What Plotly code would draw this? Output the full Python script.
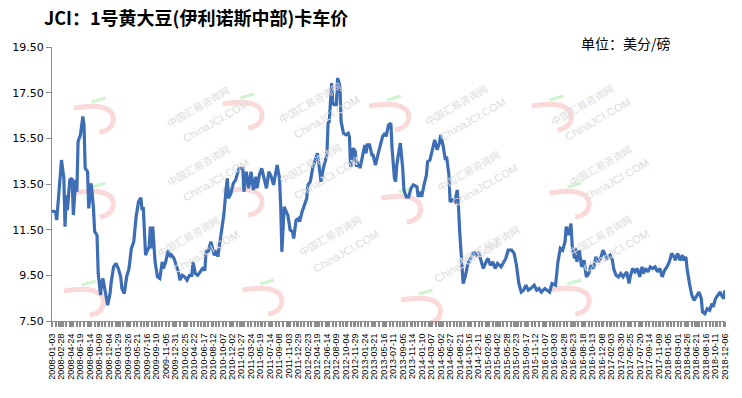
import plotly.graph_objects as go

# ---- data (week index since 2008-01-03, price in US cents / lb) ----
weeks = [
    0, 3, 4, 5, 6, 8, 10, 11, 12, 13,
    15, 17, 18, 20, 21, 22, 24, 26, 27, 28,
    30, 31, 33, 34, 35, 36, 38, 39, 41, 42,
    43, 45, 46, 47, 49, 50, 52, 54, 56, 58,
    59, 61, 63, 65, 67, 69, 71, 73, 75, 76,
    77, 79, 80, 82, 83, 84, 85, 87, 89, 91,
    93, 94, 96, 98, 100, 101, 103, 105, 107, 108,
    110, 112, 114, 116, 118, 119, 121, 123, 125, 127,
    129, 130, 132, 134, 137, 139, 140, 142, 144, 145,
    147, 148, 149, 151, 153, 155, 157, 158, 161, 162,
    164, 166, 168, 170, 172, 173, 175, 177, 179, 181,
    183, 185, 187, 190, 192, 193, 194, 196, 197, 199,
    201, 203, 204, 206, 208, 209, 211, 213, 215, 216,
    218, 220, 222, 224, 225, 227, 229, 231, 232, 233,
    234, 236, 237, 238, 240, 241, 243, 244, 246, 248,
    250, 251, 252, 253, 254, 256, 257, 259, 260, 262,
    264, 265, 266, 268, 270, 271, 273, 275, 277, 279,
    281, 282, 284, 286, 287, 289, 290, 291, 293, 294,
    296, 297, 299, 301, 303, 305, 308, 309, 311, 312,
    314, 316, 317, 319, 321, 323, 325, 327, 328, 330,
    332, 333, 335, 336, 338, 340, 342, 343, 344, 346,
    347, 349, 351, 354, 356, 358, 360, 362, 364, 367,
    368, 370, 372, 374, 376, 379, 381, 383, 385, 388,
    390, 392, 394, 396, 398, 400, 402, 404, 407, 409,
    411, 413, 416, 418, 420, 422, 425, 427, 429, 431,
    433, 434, 436, 438, 439, 441, 442, 443, 445, 447,
    449, 451, 453, 455, 457, 459, 461, 463, 465, 467,
    468, 471, 473, 474, 476, 478, 480, 482, 485, 487,
    488, 490, 492, 494, 496, 498, 499, 501, 503, 505,
    507, 509, 511, 513, 515, 517, 519, 521, 523, 525,
    526, 528, 530, 532, 533, 535, 536, 538, 540, 542,
    544, 546, 548, 549, 551, 553, 555, 557, 558, 560,
    562, 564, 565, 567, 568,
]

prices = [
    12.31, 12.28, 11.92, 12.72, 13.24, 14.55, 13.75, 11.63, 13.00, 12.36,
    13.68, 13.75, 12.14, 13.68, 13.16, 15.36, 15.65, 16.46, 16.09, 14.19,
    14.04, 12.43, 13.53, 13.02, 12.43, 11.41, 11.26, 9.58, 8.63, 9.21,
    9.36, 8.77, 8.55, 8.19, 8.70, 9.21, 9.87, 10.02, 9.80, 9.43,
    8.92, 8.70, 9.43, 9.80, 10.68, 10.97, 12.07, 12.72, 12.90, 12.36,
    12.50, 10.38, 10.53, 10.75, 11.63, 10.68, 11.63, 10.09, 9.43, 9.36,
    10.09, 9.80, 10.09, 10.60, 10.31, 10.38, 10.24, 9.94, 9.58, 9.29,
    9.50, 9.43, 9.29, 9.50, 9.50, 10.09, 9.58, 9.50, 9.65, 9.80,
    9.72, 10.53, 10.56, 10.97, 10.38, 10.60, 10.31, 10.97, 11.70, 12.14,
    13.31, 13.75, 12.87, 13.09, 13.53, 13.68, 14.04, 14.19, 14.19, 13.16,
    14.04, 13.31, 14.04, 13.24, 13.82, 13.31, 13.90, 14.19, 13.75, 13.31,
    14.04, 13.82, 13.46, 14.33, 13.75, 12.58, 10.53, 12.50, 12.36, 12.14,
    11.48, 11.41, 11.11, 11.92, 11.99, 11.85, 12.28, 12.58, 12.87, 13.46,
    13.60, 14.19, 14.48, 14.85, 14.48, 13.60, 14.19, 14.55, 14.77, 16.16,
    16.24, 17.92, 17.04, 16.97, 16.97, 18.14, 17.77, 16.24, 15.72, 15.65,
    15.72, 15.58, 14.26, 14.41, 15.07, 14.92, 14.26, 14.48, 14.19, 14.70,
    15.21, 14.85, 15.21, 15.21, 14.77, 14.77, 14.33, 14.77, 15.21, 15.58,
    15.72, 15.58, 16.09, 16.16, 15.07, 13.75, 13.60, 14.33, 15.00, 15.29,
    14.19, 13.24, 12.94, 12.94, 13.31, 13.46, 13.38, 12.94, 13.16, 12.94,
    13.46, 13.90, 14.48, 14.55, 15.00, 15.43, 15.00, 15.29, 15.65, 15.21,
    14.55, 14.70, 13.90, 12.72, 12.80, 12.72, 13.24, 12.58, 11.48, 9.87,
    9.14, 9.50, 10.02, 10.31, 10.53, 10.38, 10.53, 10.16, 9.80, 10.16,
    10.24, 9.94, 10.09, 9.80, 10.02, 9.87, 10.09, 10.24, 10.60, 10.60,
    10.46, 9.94, 9.14, 8.77, 8.85, 9.07, 8.85, 8.92, 9.07, 8.85,
    8.92, 8.77, 8.92, 8.85, 8.77, 9.14, 9.07, 10.09, 10.68, 10.60,
    10.97, 11.63, 11.26, 11.77, 10.82, 10.24, 10.68, 10.09, 10.60, 9.87,
    10.16, 9.43, 9.58, 9.94, 9.80, 10.31, 10.09, 10.24, 10.60, 10.38,
    10.24, 10.38, 10.16, 9.80, 9.50, 9.43, 9.58, 9.43, 9.65, 9.14,
    9.43, 9.80, 9.65, 9.80, 9.43, 9.87, 9.58, 9.80, 9.65, 9.87,
    9.80, 9.87, 9.65, 9.80, 9.43, 9.72, 9.87, 10.09, 10.46, 10.31,
    10.16, 10.46, 10.16, 10.38, 10.16, 10.31, 9.80, 9.14, 8.63, 8.41,
    8.63, 8.77, 8.48, 7.90, 7.82, 8.04, 7.97, 8.26, 8.11, 8.48,
    8.63, 8.77, 8.63, 8.48, 8.85,
]

tick_labels = [
    "2008-01-03", "2008-02-28", "2008-04-24", "2008-06-19", "2008-08-14", "2008-10-09", "2008-12-04",
    "2009-01-29", "2009-03-26", "2009-05-21", "2009-07-16", "2009-09-10", "2009-11-05", "2009-12-31",
    "2010-02-25", "2010-04-22", "2010-06-17", "2010-08-12", "2010-10-07", "2010-12-02",
    "2011-01-27", "2011-03-24", "2011-05-19", "2011-07-14", "2011-09-08", "2011-11-03", "2011-12-29",
    "2012-02-23", "2012-04-19", "2012-06-14", "2012-08-09", "2012-10-04", "2012-11-29",
    "2013-01-24", "2013-03-21", "2013-05-16", "2013-07-11", "2013-09-05", "2013-11-14",
    "2014-01-10", "2014-03-07", "2014-05-02", "2014-06-27", "2014-08-21", "2014-10-16", "2014-12-11",
    "2015-02-05", "2015-04-02", "2015-05-28", "2015-07-23", "2015-09-17", "2015-11-12",
    "2016-01-07", "2016-03-03", "2016-04-28", "2016-06-23", "2016-08-18", "2016-10-13", "2016-12-08",
    "2017-02-03", "2017-03-30", "2017-05-25", "2017-07-20", "2017-09-14", "2017-11-09",
    "2018-01-05", "2018-03-01", "2018-04-26", "2018-06-21", "2018-08-16", "2018-10-11", "2018-12-06",
]
label_step = 8
y_ticks = [7.5, 9.5, 11.5, 13.5, 15.5, 17.5, 19.5]

title_text = "JCI：1号黄大豆(伊利诺斯中部)卡车价"
unit_text = "单位：美分/磅"
wm_cn = "中国汇易咨询网"
wm_en = "ChinaJCI.COM"

W, H = 742, 398
L, R, T, B = 50, 13, 47, 77
pw, ph = W - L - R, H - T - B


def px2paper(px, py):
    return (px - L) / pw, (H - B - py) / ph


fig = go.Figure()

# faint watermarks (decoration behind the data line)
wm_pos = [(160, 80), (310, 76), (458, 78), (622, 78),
          (160, 165), (310, 163), (470, 170), (640, 165),
          (150, 263), (330, 262), (490, 272), (640, 262)]
annotations = []
shapes = []
for (px, py) in wm_pos:
    ax, ay = px2paper(px, py)
    annotations.append(dict(
        x=ax, y=ay, xref="paper", yref="paper",
        text=wm_cn, showarrow=False, textangle=-30,
        font=dict(size=10, color="#dcdcdc", family="Noto Sans CJK SC")))
    bx, by = px2paper(px + 17, py + 15)
    annotations.append(dict(
        x=bx, y=by, xref="paper", yref="paper",
        text=wm_en, showarrow=False, textangle=-30,
        font=dict(size=11, color="#dcdcdc", family="Liberation Sans")))
    # pink hook logo
    p0 = px2paper(px - 88, py + 28)
    c1 = px2paper(px - 50, py + 22)
    p1 = px2paper(px - 48, py + 38)
    c2 = px2paper(px - 48, py + 50)
    p2 = px2paper(px - 62, py + 52)
    shapes.append(dict(
        type="path", xref="paper", yref="paper", layer="below",
        path=(f"M {p0[0]},{p0[1]} Q {c1[0]},{c1[1]} {p1[0]},{p1[1]} "
              f"Q {c2[0]},{c2[1]} {p2[0]},{p2[1]}"),
        line=dict(color="rgba(245,170,170,0.45)", width=5)))
    g0 = px2paper(px - 70, py + 22)
    g1 = px2paper(px - 56, py + 18)
    shapes.append(dict(
        type="line", xref="paper", yref="paper", layer="below",
        x0=g0[0], y0=g0[1], x1=g1[0], y1=g1[1],
        line=dict(color="rgba(150,230,150,0.45)", width=3)))

fig.add_trace(go.Scatter(
    x=weeks, y=prices, mode="lines",
    line=dict(color="#3d6db5", width=3.2),
    hoverinfo="skip", showlegend=False,
))

tx, ty = px2paper(40, 17)
annotations.append(dict(
    x=tx, y=ty, xref="paper", yref="paper",
    xanchor="left", yanchor="middle", showarrow=False,
    text="<b>" + title_text + "</b>",
    font=dict(size=18, color="#000000", family="Noto Sans CJK SC")))
ux, uy = px2paper(629, 43)
annotations.append(dict(
    x=ux, y=uy, xref="paper", yref="paper",
    xanchor="center", yanchor="middle", showarrow=False,
    text=unit_text,
    font=dict(size=14, color="#000000", family="Noto Sans CJK SC")))

fig.update_layout(
    width=W, height=H,
    margin=dict(l=L, r=R, t=T, b=B, pad=0),
    paper_bgcolor="white", plot_bgcolor="white",
    annotations=annotations,
    shapes=shapes,
    xaxis=dict(
        range=[0, weeks[-1]],
        tickmode="array",
        tickvals=[i * label_step for i in range(len(tick_labels))],
        ticktext=tick_labels,
        tickangle=-90,
        tickfont=dict(size=9, color="#000000", family="Liberation Sans"),
        ticklabelstandoff=3,
        showgrid=False, zeroline=False,
        showline=True, linecolor="#8c8c8c", linewidth=1,
        ticks="outside", ticklen=5, tickwidth=2.4, tickcolor="#8c8c8c",
        minor=dict(dtick=3, tick0=0, ticks="outside", ticklen=5, tickwidth=2.4,
                   tickcolor="#8c8c8c", showgrid=False),
    ),
    yaxis=dict(
        range=[7.5, 19.5],
        tickmode="array",
        tickvals=y_ticks,
        ticktext=[f"{v:.2f}" for v in y_ticks],
        tickfont=dict(size=11, color="#000000", family="DejaVu Sans"),
        showgrid=False, zeroline=False,
        showline=True, linecolor="#8c8c8c", linewidth=1,
        ticks="outside", ticklen=5, tickcolor="#8c8c8c",
    ),
)

fig.write_html("out.html")
